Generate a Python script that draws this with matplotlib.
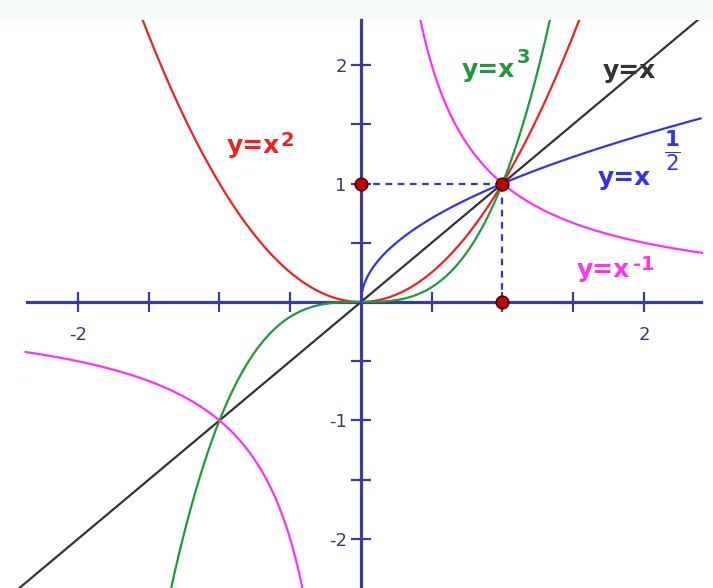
import numpy as np
import matplotlib.pyplot as plt

plt.rcParams['font.family'] = ['DejaVu Sans']

# power functions y = x**p
powers = [1, 2, 3, 0.5, -1]
colors = ['#333333', '#ee2222', '#1f9a3a', '#3333ee', '#ff33ee']
labels = ['y=x', 'y=x', 'y=x', 'y=x', 'y=x']
label_pos = [(1.71, 1.89), (-0.947, 1.257), (0.714, 1.899), (1.675, 0.987), (1.527, 0.211)]
exponents = ['', '2', '3', '', '-1']
exp_pos = [(0, 0), (-0.572, 1.316), (1.10, 2.017), (0, 0), (1.922, 0.27)]
half_pos = (2.198, 1.27)

x_ticks = [-2, -1.5, -1, -0.5, 0.5, 1, 1.5, 2]
x_ticklabels = ['-2', '', '', '', '', '', '', '2']
y_ticks = [-2, -1.5, -1, -0.5, 0.5, 1, 1.5, 2]
y_ticklabels = ['-2', '', '-1', '', '', '1', '', '2']

points = [(0, 1), (1, 1), (1, 0)]

axis_color = '#3b3b9a'

fig = plt.figure(figsize=(7.13, 5.88), dpi=100, facecolor='#f6fafb')
ax = fig.add_axes([0, 0, 1, 568 / 588])
ax.set_facecolor('white')
ax.set_xlim(-2.551, 2.488)
ax.set_ylim(-2.414, 2.380)

for p, c in zip(powers, colors):
    if p == 0.5:
        xs = np.linspace(0, 2.40, 400)
        ax.plot(xs, xs ** p, color=c, lw=1.6, zorder=3)
    elif p < 0:
        for xs in (np.linspace(-2.37, -0.3, 400), np.linspace(0.3, 2.41, 400)):
            ax.plot(xs, xs ** p, color=c, lw=1.6, zorder=3)
    else:
        xs = np.linspace(-2.6, 2.6, 600)
        ax.plot(xs, xs ** p, color=c, lw=1.6, zorder=3)

for (tx, ty), lab, c in zip(label_pos, labels, colors):
    ax.text(tx, ty, lab, color=c, fontsize=18, fontweight='bold',
            ha='left', va='baseline', zorder=5)
for (tx, ty), e, c in zip(exp_pos, exponents, colors):
    if e:
        ax.text(tx, ty, e, color=c, fontsize=14, fontweight='bold',
                ha='left', va='baseline', zorder=5)
# the 1/2 exponent drawn as a fraction
ax.text(*half_pos, r'$\frac{\mathbf{1}}{2}$', color=colors[3], fontsize=22,
        ha='center', va='center', zorder=5)

# dashed guides to (1, 1)
ax.plot([0, 1], [1, 1], color='#3333dd', lw=1.6, ls=(0, (3, 2.5)), zorder=2)
ax.plot([1, 1], [0, 1], color='#3333dd', lw=1.6, ls=(0, (3, 2.5)), zorder=2)
px, py = zip(*points)
ax.plot(px, py, 'o', ms=9, mfc='#c00000', mec='#500000', mew=1.2, zorder=6,
        clip_on=False)

# axes through the origin
for side in ('top', 'right'):
    ax.spines[side].set_visible(False)
ax.spines['left'].set_position(('data', 0))
ax.spines['bottom'].set_position(('data', 0))
ax.spines['bottom'].set_bounds(-2.36, 2.40)
for side in ('left', 'bottom'):
    ax.spines[side].set_color(axis_color)
    ax.spines[side].set_linewidth(2.3)
    ax.spines[side].set_zorder(1)

ax.set_xticks(x_ticks)
ax.set_xticklabels(x_ticklabels)
ax.set_yticks(y_ticks)
ax.set_yticklabels(y_ticklabels)
ax.tick_params(direction='inout', length=14.4, width=1.6, color=axis_color,
               labelcolor='#3a3a70', labelsize=13)
ax.tick_params(axis='x', pad=10)
ax.tick_params(axis='y', pad=3)

fig.savefig('out.png', dpi=100, facecolor=fig.get_facecolor())
